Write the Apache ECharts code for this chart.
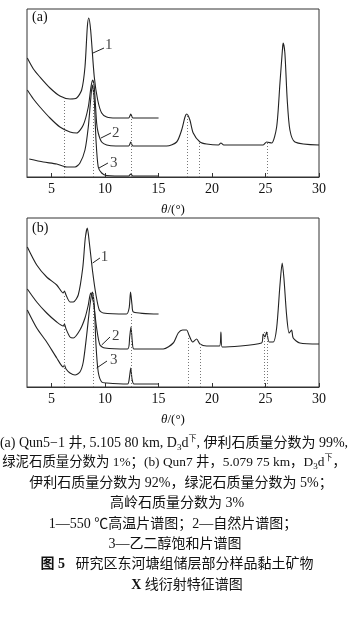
<!DOCTYPE html>
<html><head><meta charset="utf-8">
<script src="https://cdn.jsdelivr.net/npm/echarts@6/dist/echarts.min.js"></script>
<style>html,body{margin:0;padding:0;background:#fff}#c{width:355px;height:618px}</style>
</head><body><div id="c"></div>
<script>
// θ tick labels
const thetaTicks = [5, 10, 15, 20, 25, 30];
// Panel (a): [θ/(°), intensity (a.u.)]
const a1 = [[2.73,119],[3.3,108],[3.91,100],[4.85,89],[5.78,81],[6.72,78],[7.34,79],[7.81,87],[8.12,110],[8.34,150],[8.47,159],[8.65,147],[8.99,100],[9.31,77],[9.68,64],[10.15,60],[11,59],[12.2,59],[12.4,63],[12.6,59],[15,59]];
const a2 = [[2.73,87],[3.3,78],[3.91,70],[4.85,59],[5.78,50],[6.72,45],[7.34,44],[7.96,52],[8.43,70],[8.68,90],[8.84,97],[8.99,90],[9.21,54],[9.36,44],[9.68,35],[10.15,32],[11,31],[12.2,31],[12.4,35],[12.6,31],[15.76,31],[16.69,35],[17.16,47],[17.47,60],[17.63,63],[17.93,57],[18.24,44],[18.87,35],[19.49,33],[20.6,32],[20.83,34],[21.1,32],[24.78,32],[25.1,35],[25.57,34],[26.04,50],[26.35,94],[26.6,130],[26.65,134],[26.81,124],[27.03,77],[27.28,47],[27.75,35],[30,32]];
const a3 = [[2.91,18],[4.22,15],[5.48,13],[6.41,10],[7.19,10],[7.65,14],[8.12,27],[8.43,50],[8.65,77],[8.8,92],[8.99,77],[9.15,37],[9.36,10],[9.68,4],[10.15,1.5],[12.2,1],[12.4,3],[12.6,1],[15,1]];
// Panel (b)
const b1 = [[2.73,140],[3.61,122],[4.54,110],[5.48,102],[6.09,94],[6.2,96],[6.35,92],[6.72,85],[7.03,85],[7.49,92],[7.91,119],[8.15,149],[8.34,159],[8.52,145],[8.84,115],[9.15,92],[9.46,77],[9.83,74],[12.0,73],[12.25,79],[12.38,95],[12.52,82],[12.65,75],[15,73]];
const b2 = [[2.73,98],[3.61,85],[4.54,74],[5.48,65],[6.09,61],[6.2,63],[6.35,58],[6.72,50],[7.03,49],[7.65,57],[8.12,69],[8.43,82],[8.65,94],[8.9,85],[9.21,59],[9.52,42],[9.99,39],[12.1,38],[12.3,50],[12.42,60],[12.55,45],[12.7,38],[15.44,38],[16.37,44],[16.84,54],[17.25,57],[17.63,57],[17.84,52],[18.19,45],[18.56,48],[18.87,43],[19.49,41],[20.7,41],[20.83,55],[20.95,40],[24.63,44],[24.78,53],[24.95,50],[25.1,55],[25.34,45],[25.72,45],[26.04,59],[26.35,102],[26.56,124],[26.72,109],[26.97,72],[27.21,54],[27.44,57],[27.59,49],[28.21,44],[30,43]];
const b3 = [[2.73,77],[3.61,59],[4.54,45],[5.48,29],[6.09,20],[6.2,22],[6.35,18],[6.72,14],[7.19,12],[7.65,15],[7.96,25],[8.28,52],[8.59,82],[8.8,95],[8.99,82],[9.15,42],[9.36,15],[9.68,5],[10.15,4],[12.1,3],[12.28,10],[12.4,19],[12.52,8],[12.7,3],[15,3]];
// reference (dotted) lines: [θ, top intensity]
const aRef = [[6.2,77],[8.9,95],[12.4,62],[17.7,62],[18.8,34],[25.15,35]];
const bRef = [[6.2,92],[8.9,94],[12.4,74],[17.8,49],[18.9,44],[24.9,55],[25.15,55]];
// curve labels: leader from [θ1,I1] to [θ2,I2], text at [θ,I]
const aLeaders = [[8.87,124,9.9,129],[9.62,39,10.55,44],[9.43,9,10.27,14]];
const aLabels = [[10.35,132,'1'],[11.0,44,'2'],[10.8,14,'3']];
const bLeaders = [[8.84,124,9.52,129],[9.68,42,10.46,50],[9.21,19,10.18,26]];
const bLabels = [[9.95,130,'1'],[11.0,51,'2'],[10.8,27,'3']];

const serif = '"Liberation Serif","Noto Sans CJK SC",serif';
const chart = echarts.init(document.getElementById('c'), null, {renderer:'canvas'});

function xAx(gi){
  return {gridIndex:gi,type:'value',min:2.7,max:30,
    axisLine:{show:true,lineStyle:{color:'#333',width:1}},
    axisTick:{show:true,inside:true,length:4,customValues:thetaTicks,lineStyle:{color:'#333'}},
    axisLabel:{customValues:thetaTicks,color:'#111',fontFamily:serif,fontSize:14,margin:5},
    splitLine:{show:false},
    name:'{i|θ}/(°)',nameLocation:'middle',nameGap:26,
    nameTextStyle:{color:'#111',fontFamily:serif,fontSize:13,rich:{i:{fontStyle:'italic',fontFamily:serif,fontSize:13,color:'#111'}}}};
}
function yAx(gi,max){return {gridIndex:gi,type:'value',min:0,max:max,show:false};}
function curve(data,gi){return {type:'line',xAxisIndex:gi,yAxisIndex:gi,data:data,showSymbol:false,smooth:0.25,
  lineStyle:{color:'#222',width:1.1},silent:true,z:3};}
function refSeries(ref,gi){return {type:'line',xAxisIndex:gi,yAxisIndex:gi,data:[],
  markLine:{symbol:'none',silent:true,label:{show:false},lineStyle:{type:[1,2],color:'#777',width:1},
    data:ref.map(r=>[{coord:[r[0],0]},{coord:[r[0],r[1]]}])}};}
function leaderSeries(lead,lab,gi){return {type:'scatter',xAxisIndex:gi,yAxisIndex:gi,symbolSize:0,
  data:lab.map(l=>[l[0],l[1],l[2]]),
  label:{show:true,position:'inside',formatter:p=>p.value[2],color:'#111',fontFamily:serif,fontSize:15},
  markLine:{symbol:'none',silent:true,label:{show:false},lineStyle:{type:'solid',color:'#222',width:1},
    data:lead.map(l=>[{coord:[l[0],l[1]]},{coord:[l[2],l[3]]}])}};}

const rich = {
  sub:{fontSize:9,fontFamily:serif,verticalAlign:'bottom',lineHeight:18,padding:[6,0,0,0],fill:'#111'},
  sup:{fontSize:8,fontFamily:'"Noto Sans CJK SC"',verticalAlign:'top',lineHeight:18,padding:[0,0,6,0]},
  b:{fontWeight:'bold',fontFamily:serif,fontSize:14}
};
const captions = [
  [174,443,'(a) Qun5−1 井, 5.105 80 km, D{sub|3}d{sup|下}, 伊利石质量分数为 99%,',14],
  [174,462,'绿泥石质量分数为 1%；(b) Qun7 井，5.079 75 km，D{sub|3}d{sup|下}，',13.4],
  [181,483,'伊利石质量分数为 92%，绿泥石质量分数为 5%；',14],
  [177,503,'高岭石质量分数为 3%',14],
  [173,524,'1—550 ℃高温片谱图；2—自然片谱图；',14],
  [175,544,'3—乙二醇饱和片谱图',14],
  [177,564,'{b|图 5}   研究区东河塘组储层部分样品黏土矿物',14],
  [187,585,'{b|X} 线衍射特征谱图',14]
];

const option = {
  animation:false,
  backgroundColor:'#fff',
  grid:[
    {left:27,top:9,width:292,height:168,show:true,borderColor:'#333',borderWidth:1,backgroundColor:'transparent'},
    {left:27,top:218,width:292,height:169,show:true,borderColor:'#333',borderWidth:1,backgroundColor:'transparent'}
  ],
  xAxis:[xAx(0),xAx(1)],
  yAxis:[yAx(0,168),yAx(1,169)],
  series:[
    curve(a1,0),curve(a2,0),curve(a3,0),
    curve(b1,1),curve(b2,1),curve(b3,1),
    refSeries(aRef,0),refSeries(bRef,1),
    leaderSeries(aLeaders,aLabels,0),leaderSeries(bLeaders,bLabels,1)
  ],
  graphic:[
    {type:'text',x:32,y:17,style:{text:'(a)',font:'14px '+serif,fill:'#111',verticalAlign:'middle'}},
    {type:'text',x:32,y:228,style:{text:'(b)',font:'14px '+serif,fill:'#111',verticalAlign:'middle'}}
  ].concat(captions.map(c=>({type:'text',x:c[0],y:c[1],style:{text:c[2],fontSize:c[3],fontFamily:serif,fill:'#111',align:'center',verticalAlign:'middle',rich:rich}})))
};
chart.setOption(option);
</script></body></html>
